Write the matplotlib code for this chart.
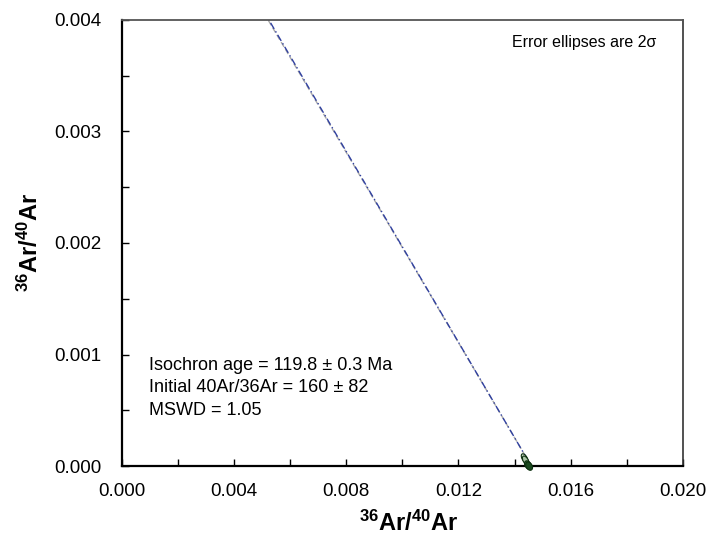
import matplotlib.pyplot as plt
import numpy as np
from matplotlib.ticker import MultipleLocator

plt.rcParams["font.family"] = ["Liberation Sans", "DejaVu Sans"]
plt.rcParams["mathtext.fontset"] = "custom"
plt.rcParams["mathtext.rm"] = "Liberation Sans"
plt.rcParams["mathtext.bf"] = "Liberation Sans:bold"

# isochron fit
x_intercept = 0.01460
y_intercept = 0.00624

# step ellipses: centre x, centre y, half-length along line (px), half-width (px)
ell_x = [0.01436, 0.01440, 0.01448, 0.01452]
ell_y = [0.00007, 0.00005, 0.00001, 0.00000]
ell_len = [5.0, 5.0, 4.5, 4.5]
ell_wid = [2.5, 2.5, 3.0, 3.0]
ell_fill = ["#c9d6c4", "#a9c4a6", "#2f6b35", "#1b4a20"]

age_text = [
    "Isochron age = 119.8 \u00b1 0.3 Ma",
    "Initial 40Ar/36Ar = 160 \u00b1 82",
    "MSWD = 1.05",
]

fig = plt.figure(figsize=(7.21, 5.37), dpi=100)
ax = fig.add_axes([0.169, 0.132, 0.778, 0.831])
ax.set_xlim(0, 0.020)
ax.set_ylim(0, 0.004)

xs = np.array([0.0, x_intercept])
ys = y_intercept * (1 - xs / x_intercept)
ax.plot(xs, ys * 0.997, color="#a8a8a8", lw=1.0, ls="--", dashes=(4, 2))
ax.plot(xs, ys, color="#3040a0", lw=1.0, ls="-.", dashes=(5, 2, 1, 2))

# ellipses built in pixel space so they follow the line direction on screen
p0 = ax.transData.transform((0, y_intercept))
p1 = ax.transData.transform((x_intercept, 0))
u = (p1 - p0) / np.hypot(*(p1 - p0))
v = np.array([-u[1], u[0]])
t = np.linspace(0, 2 * np.pi, 60)
for x, y, a, b, c in zip(ell_x, ell_y, ell_len, ell_wid, ell_fill):
    cp = ax.transData.transform((x, y))
    pts = cp + np.outer(np.cos(t) * a, u) + np.outer(np.sin(t) * b, v)
    dpts = ax.transData.inverted().transform(pts)
    ax.fill(dpts[:, 0], dpts[:, 1], facecolor=c, edgecolor="#0d3010",
            lw=0.8, zorder=3, clip_on=False)

ax.xaxis.set_major_locator(MultipleLocator(0.004))
ax.xaxis.set_minor_locator(MultipleLocator(0.002))
ax.yaxis.set_major_locator(MultipleLocator(0.001))
ax.yaxis.set_minor_locator(MultipleLocator(0.0005))
ax.xaxis.set_major_formatter(lambda v, p: f"{v:.3f}")
ax.yaxis.set_major_formatter(lambda v, p: f"{v:.3f}")
ax.tick_params(which="both", direction="in", labelsize=13.5, width=1, length=5)
ax.tick_params(axis="x", pad=12)
ax.tick_params(axis="y", pad=15)

for side in ("left", "bottom"):
    ax.spines[side].set_linewidth(1.6)
    ax.spines[side].set_color("black")
ax.spines["top"].set_color("#555555")
ax.spines["right"].set_color("#333333")
ax.spines["top"].set_linewidth(1.3)
ax.spines["right"].set_linewidth(1.2)

ax.set_xlabel(r"$\mathbf{^{36}Ar/^{40}Ar}$", fontsize=17)
ax.set_ylabel(r"$\mathbf{^{36}Ar/^{40}Ar}$", fontsize=17)
ax.xaxis.set_label_coords(0.511, -0.100)
ax.yaxis.set_label_coords(-0.141, 0.502)

for i, line in enumerate(age_text):
    ax.text(0.00096, 0.000861 - i * 0.000200, line, fontsize=13, va="baseline")

ax.text(0.01390, 0.00376, "Error ellipses are 2\u03c3", fontsize=11.5, va="baseline")

fig.savefig("out.png", dpi=100)
